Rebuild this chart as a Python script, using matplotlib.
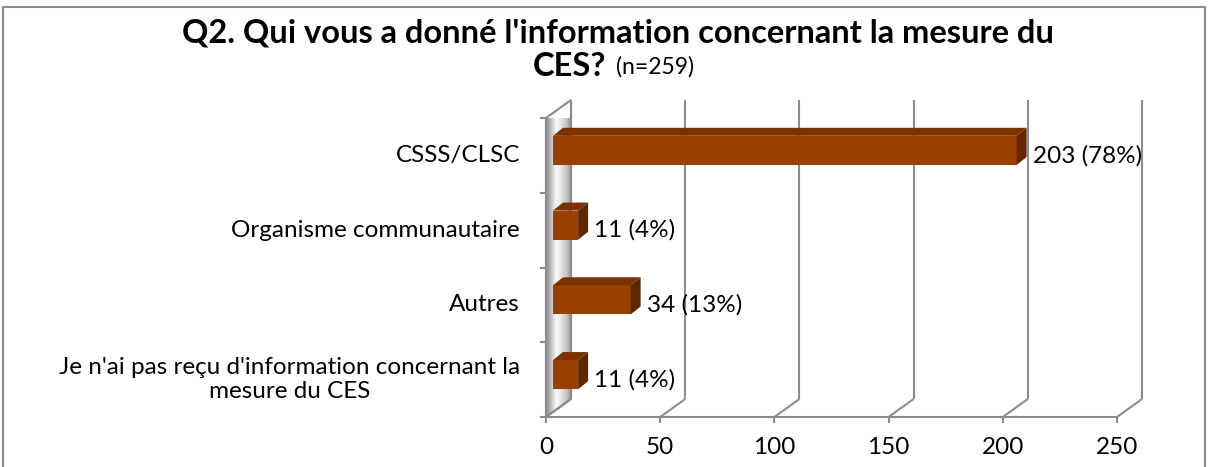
import numpy as np
import matplotlib
matplotlib.use('Agg')
import matplotlib.pyplot as plt
from matplotlib.patches import Polygon, Rectangle
from matplotlib.transforms import IdentityTransform

plt.rcParams['font.family'] = ['Lato', 'DejaVu Sans']

# data
categories = ['CSSS/CLSC', 'Organisme communautaire', 'Autres',
              "Je n'ai pas reçu d'information concernant la\nmesure du CES"]
counts = [203, 11, 34, 11]
pcts = [78, 4, 13, 4]
xticks = [0, 50, 100, 150, 200, 250]

W, H = 1212, 467
fig = plt.figure(figsize=(W / 100, H / 100), dpi=100)
ax = fig.add_axes([546 / W, (H - 417) / H, 571 / W, 299 / H])
ax.set_xlim(0, 250)
ax.set_ylim(-0.5, len(categories) - 0.5)
ax.axis('off')

ident = IdentityTransform()
grid_c = '#8c8c8c'
wall = (25, 18)       # depth of the back wall in pixels
bar_front = (7, 5)    # bar front face offset
bar_depth = (10, 8)
bar_h = 0.39
fs = 17.5


def P(x, y, dx=0, dy=0):
    px, py = ax.transData.transform((x, y))
    return (px + dx, py + dy)


def line(a, b):
    fig.add_artist(plt.Line2D([a[0], b[0]], [a[1], b[1]], color=grid_c, lw=1.5,
                              transform=ident, solid_capstyle='butt'))


ymin, ymax = ax.get_ylim()

# side wall with gradient
wall_poly = Polygon([P(0, ymin), P(0, ymax), P(0, ymax, *wall), P(0, ymin, *wall)],
                    closed=True, transform=ident, facecolor='none',
                    edgecolor=grid_c, lw=1.5)
fig.add_artist(wall_poly)
g = np.concatenate([np.linspace(0.55, 0.98, 12), np.linspace(0.98, 0.8, 10), np.linspace(0.8, 0.6, 6)])
grad = np.tile(g, (40, 1))
x0, y0 = P(0, ymin)
x1, y1 = P(0, ymax, *wall)
img = ax.imshow(grad, cmap='gray', vmin=0, vmax=1, aspect='auto',
                extent=(x0, x1, y0, y1), transform=ident, zorder=0.5)
img.set_clip_path(wall_poly)

# back gridlines + floor diagonals + x ticks
for xt in xticks:
    line(P(xt, ymin, *wall), P(xt, ymax, *wall))
    line(P(xt, ymin), P(xt, ymin, *wall))
    line(P(xt, ymin), P(xt, ymin, 0, -6))
    fx, fy = P(xt, ymin)
    fig.text(fx / W, (fy - 31) / H, str(xt), ha='center', va='center', fontsize=fs)

# front floor and front left axis
line(P(0, ymin), P(250, ymin))
line(P(0, ymin), P(0, ymax))
for yb in np.arange(ymin, ymax + 0.01, 1.0):
    line(P(0, yb, -6, 0), P(0, yb))

# bars
front_c, top_c, side_c = '#993f00', '#7a3300', '#5e2700'
n = len(categories)
for i, (cat, v, p) in enumerate(zip(categories, counts, pcts)):
    yc = n - 1 - i
    yt, yb = yc + bar_h / 2, yc - bar_h / 2
    fdx, fdy = bar_front
    bdx, bdy = fdx + bar_depth[0], fdy + bar_depth[1]
    front = Polygon([P(0, yb, fdx, fdy), P(v, yb, fdx, fdy), P(v, yt, fdx, fdy), P(0, yt, fdx, fdy)],
                    transform=ident, facecolor=front_c, edgecolor='none', zorder=3)
    top = Polygon([P(0, yt, fdx, fdy), P(v, yt, fdx, fdy), P(v, yt, bdx, bdy), P(0, yt, bdx, bdy)],
                  transform=ident, facecolor=top_c, edgecolor='none', zorder=3)
    side = Polygon([P(v, yb, fdx, fdy), P(v, yb, bdx, bdy), P(v, yt, bdx, bdy), P(v, yt, fdx, fdy)],
                   transform=ident, facecolor=side_c, edgecolor='none', zorder=3)
    for patch in (front, top, side):
        fig.add_artist(patch)
    lx, ly = P(v, yc, fdx + 16, 0)
    fig.text(lx / W, ly / H, f'{v} ({p}%)', ha='left', va='center', fontsize=fs)
    cx, cy = P(0, yc)
    fig.text((cx - 26) / W, cy / H, cat, ha='right', va='center', fontsize=fs,
             multialignment='center', linespacing=1.15)

# title
fig.text(618 / W, (H - 33) / H, "Q2. Qui vous a donné l'information concernant la mesure du",
         ha='center', va='center', fontsize=23.5, fontweight='bold')
fig.text(606 / W, (H - 67) / H, 'CES?', ha='right', va='center', fontsize=23.5, fontweight='bold')
fig.text(616 / W, (H - 67) / H, '(n=259)', ha='left', va='center', fontsize=16.5)

# outer frame
fig.add_artist(Rectangle((3 / W, -0.01), (1205 - 3) / W, (H - 7) / H + 0.01,
                         transform=fig.transFigure, fill=False, edgecolor='#8c8c8c', lw=1.5))

fig.savefig('out.png', dpi=100)
